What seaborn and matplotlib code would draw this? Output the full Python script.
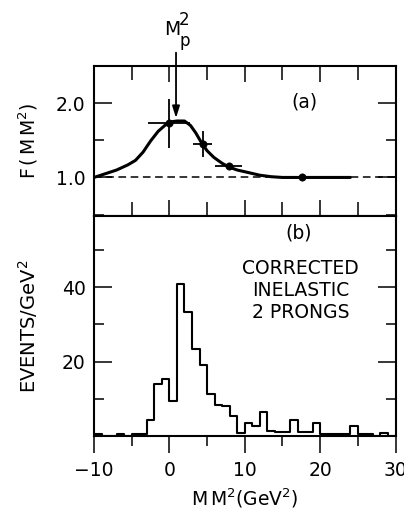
import numpy as np
import pandas as pd
import seaborn as sns
import matplotlib.pyplot as plt
from matplotlib.ticker import MultipleLocator

# (a) correction factor F(MM^2)
curve_x = [-10, -8.5, -7, -5.5, -4.5, -3.5, -2.5, -1.5, -0.5, 0.3, 1.0, 2.0,
           2.8, 3.5, 4.3, 5.0, 5.9, 7.0, 7.9, 9.0, 10.3, 12.0, 13.5, 15.0, 24.0]
curve_y = [1.00, 1.05, 1.10, 1.17, 1.23, 1.34, 1.49, 1.62, 1.71, 1.75, 1.76, 1.76,
           1.70, 1.60, 1.46, 1.36, 1.27, 1.19, 1.14, 1.10, 1.07, 1.03, 1.01, 1.00, 1.00]

pts_x = [0.0, 4.4, 7.85, 17.6]
pts_y = [1.73, 1.45, 1.15, 1.00]
pts_xerr = [2.8, 1.22, 1.78, 0.0]
pts_yerr = [0.33, 0.17, 0.04, 0.0]

# (b) events / GeV^2, 1 GeV^2 bins from -10 to 30
bin_edges = list(range(-10, 31))
counts = [0.7, 0, 0, 0.7, 0, 0.6, 0.6, 4.3, 14.0, 15.5,
          9.6, 40.7, 33.3, 23.5, 19.2, 11.4, 8.4, 8.2, 5.4, 0.9,
          3.6, 2.9, 6.6, 1.6, 1.2, 1.1, 4.5, 1.1, 1.1, 3.6,
          0.7, 0.7, 0.7, 0.7, 2.7, 0.7, 0.7, 0, 0.9, 0]

mp2 = 0.88

sns.set_style("ticks")
plt.rcParams['font.family'] = ['DejaVu Sans']
plt.rcParams['mathtext.default'] = 'regular'
for key in ['text.color', 'axes.labelcolor', 'xtick.color', 'ytick.color', 'axes.edgecolor']:
    plt.rcParams[key] = 'black'

fig = plt.figure(figsize=(4.04, 5.12), dpi=100)
ax1 = fig.add_axes([0.2327, 0.578, 0.7463, 0.293])
ax2 = fig.add_axes([0.2327, 0.1475, 0.7463, 0.4305])

fs = 13.5

# --- panel (a)
ax1.axhline(1.0, color='k', lw=1.1, ls=(0, (5, 3)))
sns.lineplot(x=curve_x, y=curve_y, ax=ax1, color='k', lw=2.2,
             sort=False, estimator=None)
ax1.errorbar(pts_x, pts_y, xerr=pts_xerr, yerr=pts_yerr, fmt='none',
             ecolor='k', elinewidth=1.3, capsize=0)
sns.scatterplot(x=pts_x, y=pts_y, ax=ax1, color='k', s=28, edgecolor='k', zorder=5)

ax1.set_xlim(-10, 30)
ax1.set_ylim(0.48, 2.5)
ax1.xaxis.set_major_locator(MultipleLocator(10))
ax1.xaxis.set_minor_locator(MultipleLocator(5))
ax1.set_yticks([1.0, 2.0])
ax1.set_yticklabels(['1.0', '2.0'])
ax1.yaxis.set_minor_locator(MultipleLocator(0.5))
ax1.tick_params(axis='both', which='both', direction='in', top=True, right=True,
                width=1.1, labelbottom=False, labelsize=fs, pad=6)
ax1.tick_params(axis='x', which='major', length=11.5)
ax1.tick_params(axis='x', which='minor', length=10)
ax1.tick_params(axis='y', which='major', length=13)
ax1.tick_params(axis='y', which='minor', length=7)
ax1.set_ylabel(r"F$\,$($\,$M$\,$M$^{2}$)", fontsize=fs)
ax1.yaxis.set_label_coords(-0.18, 0.5)

ax1.annotate("", xy=(mp2, 1.80), xytext=(mp2, 2.68), annotation_clip=False,
             arrowprops=dict(arrowstyle='-|>,head_length=0.7,head_width=0.22',
                             color='k', lw=1.3, shrinkA=0, shrinkB=0))
ax1.annotate("M", xy=(mp2, 2.68), xytext=(-3, 10), textcoords='offset points',
             ha='center', va='bottom', fontsize=fs, annotation_clip=False)
ax1.annotate("p", xy=(mp2, 2.68), xytext=(6, 2), textcoords='offset points',
             ha='center', va='bottom', fontsize=fs - 1.5, annotation_clip=False)
ax1.annotate("2", xy=(mp2, 2.68), xytext=(6, 17), textcoords='offset points',
             ha='center', va='bottom', fontsize=fs - 1.5, annotation_clip=False)
ax1.text(17.9, 2.01, "(a)", ha='center', va='center', fontsize=fs)

# --- panel (b)
centers = [e + 0.5 for e in bin_edges[:-1]]
hist_df = pd.DataFrame({"mm2": centers, "events": counts})
sns.histplot(data=hist_df, x="mm2", weights="events", bins=bin_edges,
             element="step", fill=False, color='k', lw=1.5, ax=ax2)

ax2.set_xlim(-10, 30)
ax2.set_ylim(0, 59)
ax2.xaxis.set_major_locator(MultipleLocator(10))
ax2.xaxis.set_minor_locator(MultipleLocator(5))
ax2.set_yticks([20, 40])
ax2.yaxis.set_minor_locator(MultipleLocator(10))
ax2.tick_params(axis='x', which='both', direction='out', top=False,
                width=1.1, labelsize=fs, pad=6)
ax2.tick_params(axis='x', which='major', length=12)
ax2.tick_params(axis='x', which='minor', length=7)
ax2.tick_params(axis='y', which='both', direction='in', left=True, right=True,
                width=1.1, labelsize=fs, pad=6)
ax2.tick_params(axis='y', which='major', length=13)
ax2.tick_params(axis='y', which='minor', length=7)
ax2.set_ylabel("EVENTS/GeV$^{2}$", fontsize=fs + 0.5)
ax2.yaxis.set_label_coords(-0.18, 0.5)
ax2.set_xlabel(r"M$\,$M$^{2}$(GeV$^{2}$)", fontsize=fs)
ax2.xaxis.set_label_coords(0.5, -0.225)

ax2.text(17.15, 54.6, "(b)", ha='center', va='center', fontsize=fs)
ax2.text(17.4, 39.0, "CORRECTED\nINELASTIC\n2 PRONGS", ha='center', va='center',
         fontsize=fs, linespacing=1.2)

for ax in (ax1, ax2):
    for sp in ax.spines.values():
        sp.set_linewidth(1.5)
        sp.set_visible(True)
        sp.set_color('k')

fig.savefig("out.png", dpi=100)
